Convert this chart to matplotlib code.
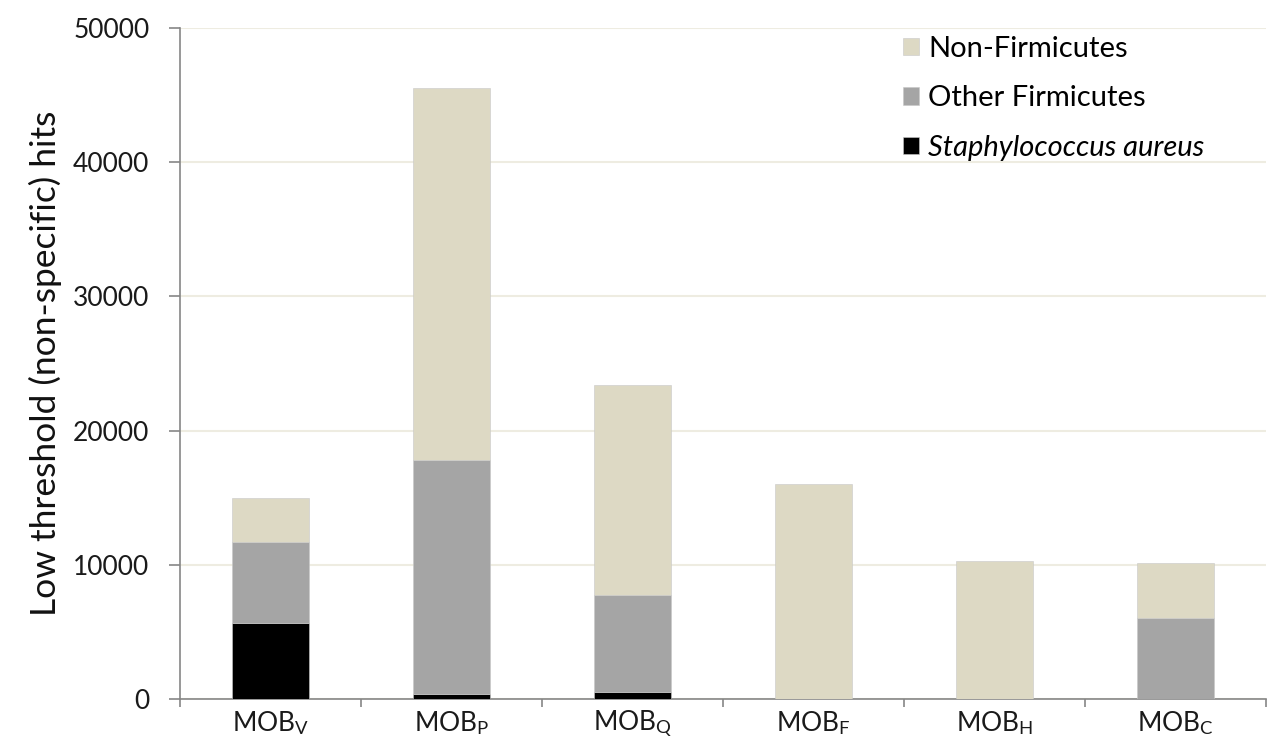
import matplotlib
matplotlib.use("Agg")
import matplotlib.pyplot as plt
import numpy as np

categories = ["V", "P", "Q", "F", "H", "C"]
s_aureus = [5700, 400, 500, 0, 0, 0]
other_firmicutes = [6000, 17400, 7250, 0, 0, 6000]
non_firmicutes = [3300, 27700, 15650, 16000, 10300, 4150]
yticks = [0, 10000, 20000, 30000, 40000, 50000]

plt.rcParams['font.family'] = ['Lato', 'DejaVu Sans']
plt.rcParams['mathtext.fontset'] = 'custom'
plt.rcParams['mathtext.rm'] = 'Lato'
plt.rcParams['mathtext.it'] = 'Lato:italic'

fig = plt.figure(figsize=(12.78, 7.45), dpi=100)
ax = fig.add_axes([180/1278, 1-699/745, 1086/1278, (699-28)/745])

x = np.arange(len(categories))
w = 0.42
c_non = '#DDD9C4'
c_oth = '#A5A5A5'
c_sa = '#000000'
ec = dict(edgecolor='#C8C8C8', linewidth=0.4)
ax.bar(x, s_aureus, w, color=c_sa, label='Staphylococcus aureus', zorder=3, **ec)
b1 = np.array(s_aureus)
ax.bar(x, other_firmicutes, w, bottom=b1, color=c_oth, label='Other Firmicutes', zorder=3, **ec)
b2 = b1 + np.array(other_firmicutes)
ax.bar(x, non_firmicutes, w, bottom=b2, color=c_non, label='Non-Firmicutes', zorder=3, **ec)

ax.set_xlim(-0.5, len(categories) - 0.5)
ax.set_ylim(0, 50000)
ax.set_yticks(yticks)
ax.set_yticklabels([str(v) for v in yticks], fontsize=19, color='#1a1a1a')
ax.yaxis.grid(True, color='#EEECE1', linewidth=1.5, zorder=0)
ax.set_axisbelow(True)

ax.set_xticks(x)
ax.set_xticklabels([r'MOB$_\mathregular{%s}$' % c for c in categories], fontsize=19, color='#1a1a1a')
ax.set_xticks(np.arange(-0.5, len(categories)), minor=True)
ax.tick_params(axis='x', which='major', length=0, pad=7)
ax.tick_params(axis='x', which='minor', length=6, color='#868686', width=1.2)
ax.tick_params(axis='y', length=8, color='#868686', width=1.2, pad=14)

for s in ['top', 'right']:
    ax.spines[s].set_visible(False)
for s in ['left', 'bottom']:
    ax.spines[s].set_color('#868686')
    ax.spines[s].set_linewidth(1.2)

ax.set_ylabel('Low threshold (non-specific) hits', fontsize=25.5, labelpad=8, color='#111111')

handles, labels = ax.get_legend_handles_labels()
leg = ax.legend(handles[::-1], labels[::-1], loc='upper left',
                bbox_to_anchor=(903/1278, 1 - 36/745), bbox_transform=fig.transFigure,
                borderaxespad=0, borderpad=0,
                frameon=False, fontsize=21, handlelength=0.55, handleheight=0.55,
                handletextpad=0.32, labelspacing=0.8)
for t in leg.get_texts():
    if t.get_text().startswith('Staph'):
        t.set_fontstyle('italic')

fig.savefig('out.png', dpi=100)
